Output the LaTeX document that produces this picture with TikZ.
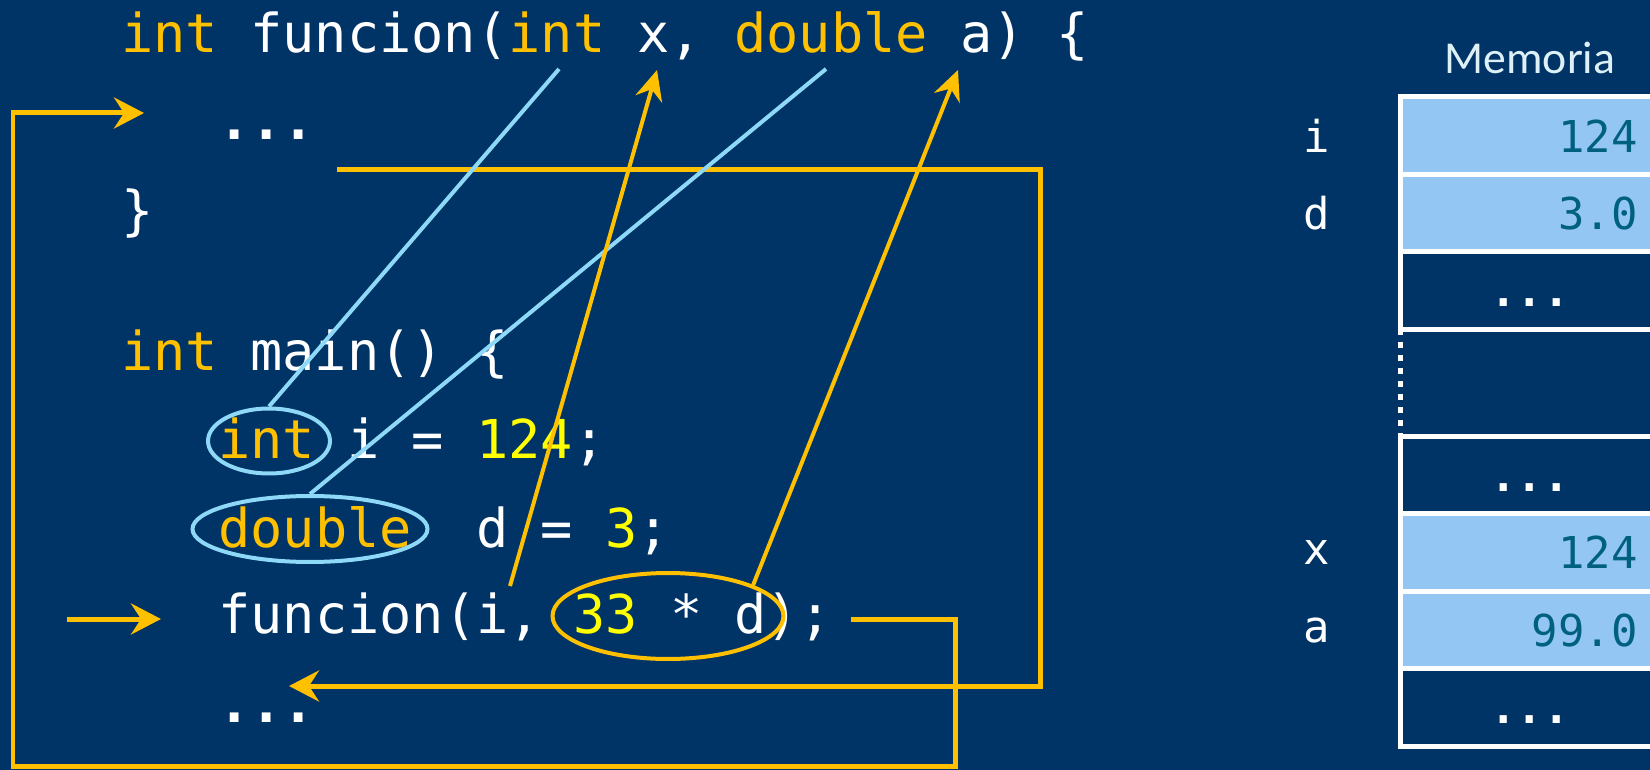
\documentclass[tikz,border=0pt]{standalone}
\usepackage{fontspec}
\setmainfont{Carlito}
\setmonofont{DejaVu Sans Mono}
\usetikzlibrary{arrows.meta,positioning,shapes.geometric}

\definecolor{slidebg}{RGB}{0,51,102}
\definecolor{gold}{RGB}{255,192,0}
\definecolor{skyline}{RGB}{142,216,248}
\definecolor{cellblue}{RGB}{148,198,244}
\definecolor{celltext}{RGB}{0,96,128}
\definecolor{numyellow}{RGB}{255,255,0}
\definecolor{memtitle}{RGB}{220,240,245}

\newcommand{\kwd}[1]{\textcolor{gold}{#1}}
\newcommand{\lit}[1]{\textcolor{numyellow}{#1}}

\tikzset{
  code/.style={anchor=base west, inner sep=0, text=white,
    font=\ttfamily\fontsize{30.5pt}{36pt}\selectfont},
  blueoval/.style={ellipse, draw=skyline, line width=0.08cm, inner sep=0},
  goldoval/.style={ellipse, draw=gold, line width=0.08cm, inner sep=0},
  flow/.style={draw=gold, line width=0.1cm,
    -{Stealth[length=0.6cm,width=0.62cm,inset=0.2cm]}},
  pass/.style={draw=gold, line width=0.08cm,
    -{Stealth[length=0.6cm,width=0.55cm,inset=0.2cm]}},
  link/.style={draw=skyline, line width=0.08cm},
  cell/.style={draw=white, line width=0.1cm, fill=cellblue, inner sep=0,
    outer sep=0, minimum width=5.2cm, minimum height=1.55cm, anchor=north west},
  memval/.style={inner sep=0, text=celltext,
    font=\ttfamily\fontsize{25pt}{30pt}\selectfont},
  memlbl/.style={inner sep=0, text=white,
    font=\ttfamily\fontsize{25pt}{30pt}\selectfont},
  memhead/.style={inner sep=0, text=memtitle, font=\fontsize{26pt}{31pt}\selectfont},
  gapline/.style={draw=white, line width=0.1cm, dash pattern=on 0.12cm off 0.14cm}
}

\begin{document}
\begin{tikzpicture}[x=0.02cm,y=-0.02cm]
    \fill[slidebg] (0,0) rectangle (1650,770);
    \useasboundingbox (0,0) rectangle (1650,770);
    \clip (0,0) rectangle (1650,770);

    % code
    \node[code] (hdr) at (121,53) {\kwd{int} funcion(\kwd{int} x, \kwd{double} a) \{};
    \node[code] (bodyA) at (218,140) {\bfseries ...};
    \node[code] (close) at (121,230) {\}};
    \node[code] (mainHdr) at (121,370) {\kwd{int} main() \{};
    \node[code] (declI) at (218,458) {\kwd{int} i = \lit{124};};
    \node[code] (declD) at (218,547) {\kwd{double}\ \ d = \lit{3};};
    \node[code] (callF) at (218,633) {funcion(i, \lit{33} * d);};
    \node[code] (bodyB) at (218,722) {\bfseries ...};

    % marked parts
    \node[blueoval, minimum width=2.44cm, minimum height=1.3cm] (ovInt) at (269,441) {};
    \node[blueoval, minimum width=4.7cm, minimum height=1.32cm] (ovDbl) at (310,529) {};
    \node[goldoval, minimum width=4.62cm, minimum height=1.72cm] (ovArg) at (668,616) {};

    \coordinate (hdrInt) at (559,69);
    \coordinate (hdrDbl) at (826,69);
    \coordinate (hdrX) at (657,70);
    \coordinate (hdrA) at (958,70);
    \coordinate (argI) at (510,586);
    \coordinate (callIn) at (67,619);
    \coordinate (callMark) at (161,619);
    \coordinate (callOut) at (851,619);
    \coordinate (jumpLow) at (955,766);
    \coordinate (jumpLeft) at (13,113);
    \coordinate (bodyIn) at (144,113);
    \coordinate (retOut) at (337,170);
    \coordinate (retLow) at (1040,686);
    \coordinate (retIn) at (289,686);

    % control flow
    \draw[flow] (callIn) -- (callMark);
    \draw[flow] (callOut) -| (jumpLow) -| (jumpLeft) -- (bodyIn);
    \draw[flow] (retOut) -| (retLow) -- (retIn);

    % types and arguments
    \draw[link] (ovInt.north) -- (hdrInt);
    \draw[link] (ovDbl.north) -- (hdrDbl);
    \draw[pass] (argI) -- (hdrX);
    \draw[pass] (ovArg.20) -- (hdrA);

    % memory
    \node[cell] (memI) at (1400,97) {};
    \node[cell, below=0cm of memI] (memD) {};
    \node[cell, fill=none, below=0cm of memD] (memGapA) {};
    \node[cell, fill=none, below=2.14cm of memGapA] (memGapB) {};
    \node[cell, below=0cm of memGapB] (memX) {};
    \node[cell, below=0cm of memX] (memA) {};
    \node[cell, fill=none, below=0cm of memA] (memEnd) {};
    \draw[gapline] (memGapA.south west) -- (memGapB.north west);

    \node[memhead, above=0.45cm of memI] (memTitle) {Memoria};

    \node[memval, left=0.44cm of memI.east] (valI) {124};
    \node[memval, left=0.44cm of memD.east] (valD) {3.0};
    \node[memval, left=0.44cm of memX.east] (valX) {124};
    \node[memval, left=0.44cm of memA.east] (valA) {99.0};
    \node[memlbl] (dotsA) at ([yshift=-0.24cm]memGapA.center) {\bfseries ...};
    \node[memlbl] (dotsB) at ([yshift=-0.24cm]memGapB.center) {\bfseries ...};
    \node[memlbl] (dotsC) at ([yshift=-0.24cm]memEnd.center) {\bfseries ...};

    \node[memlbl, left=1.4cm of memI] (lblI) {i};
    \node[memlbl, left=1.4cm of memD] (lblD) {d};
    \node[memlbl, left=1.4cm of memX] (lblX) {x};
    \node[memlbl, left=1.4cm of memA] (lblA) {a};
\end{tikzpicture}
\end{document}
